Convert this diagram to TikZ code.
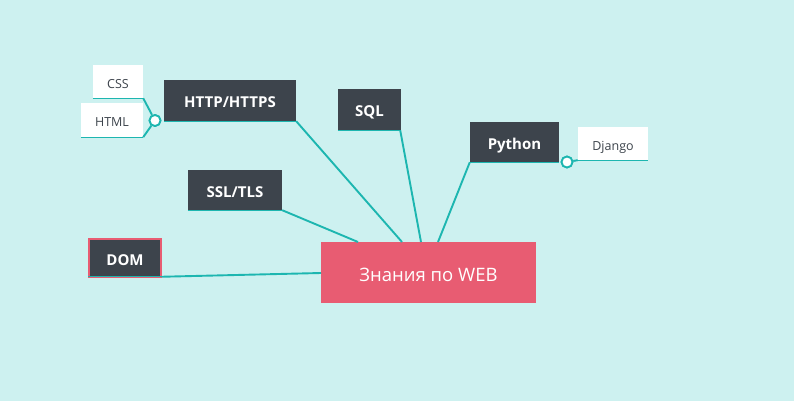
\documentclass[tikz,border=0pt]{standalone}
\usepackage{fontspec}
\setmainfont{Open Sans}
\definecolor{bg}{HTML}{CDF1F0}
\definecolor{teal}{HTML}{1DB6B0}
\definecolor{dark}{HTML}{3D444C}
\definecolor{rosy}{HTML}{E85C72}
\begin{document}
\begin{tikzpicture}[x=1pt,y=-1pt,
  topic/.style={fill=dark,text=white,font=\fontsize{15}{17}\selectfont\bfseries,inner sep=0pt,text height=15pt,text depth=0pt},
  leaf/.style={fill=white,text=dark,font=\fontsize{12.5}{14}\selectfont,inner sep=0pt,text height=13.5pt,text depth=0pt},
  link/.style={draw=teal,line width=1.9pt},
  uline/.style={draw=teal,line width=1.3pt},
  knob/.style={circle,draw=teal,fill=white,line width=1.8pt,minimum size=11pt,inner sep=0pt}]
\useasboundingbox[fill=bg] (0,0) rectangle (794,401);
% nodes
\node[fill=rosy,text=white,font=\fontsize{18.5}{21}\selectfont,minimum width=215pt,minimum height=61pt,inner sep=0pt,text height=18pt,text depth=0pt] (web) at (428.5,272.5) {Знания по WEB};
\node[topic,minimum width=132pt,minimum height=41pt] (http) at (230,100.5) {HTTP/HTTPS};
\node[topic,minimum width=63pt,minimum height=41pt] (sql) at (369.5,109.5) {SQL};
\node[topic,minimum width=89pt,minimum height=40pt] (py) at (514.5,142) {Python};
\node[topic,minimum width=94pt,minimum height=40pt] (ssl) at (235,190) {SSL/TLS};
\node[topic,minimum width=72pt,minimum height=38pt,draw=rosy,line width=1.5pt] (dom) at (125,258) {DOM};
\node[leaf,minimum width=50pt,minimum height=33pt] (css) at (118,81.5) {CSS};
\node[leaf,minimum width=62pt,minimum height=34pt] (html) at (112,120) {HTML};
\node[leaf,minimum width=70pt,minimum height=33pt] (dj) at (613,143.5) {Django};
% underlines
\draw[uline] (http.south west) -- (http.south east);
\draw[uline] (sql.south west) -- (sql.south east);
\draw[uline] (py.south west) -- (py.south east);
\draw[uline] (ssl.south west) -- (ssl.south east);
\draw[uline] (css.south west) -- (css.south east);
\draw[uline] (html.south west) -- (html.south east);
\draw[uline] (dj.south west) -- (dj.south east);
\draw[uline] ([yshift=1pt]dom.south west) -- ([yshift=1pt]dom.south east);
% connectors
\coordinate (w1) at (402,242);
\coordinate (w2) at (421,242);
\coordinate (w3) at (358,242);
\coordinate (w4) at (438,242);
\coordinate (w5) at (321,273);
\draw[link] (http.south east) -- (w1);
\draw[link] ([xshift=-1pt]sql.south east) -- (w2);
\draw[link] (ssl.south east) -- (w3);
\draw[link] (py.south west) -- (w4);
\draw[link] ([yshift=1pt]dom.south east) -- (w5);
\node[knob] (k1) at (155,120.5) {};
\node[knob] (k2) at (567,162) {};
\draw[link] (k1) -- (css.south east);
\draw[link] (k1) -- (html.south east);
\draw[link] (k2) -- (dj.south west);
\node[knob] at (155,120.5) {};
\node[knob] at (567,162) {};
\end{tikzpicture}
\end{document}
